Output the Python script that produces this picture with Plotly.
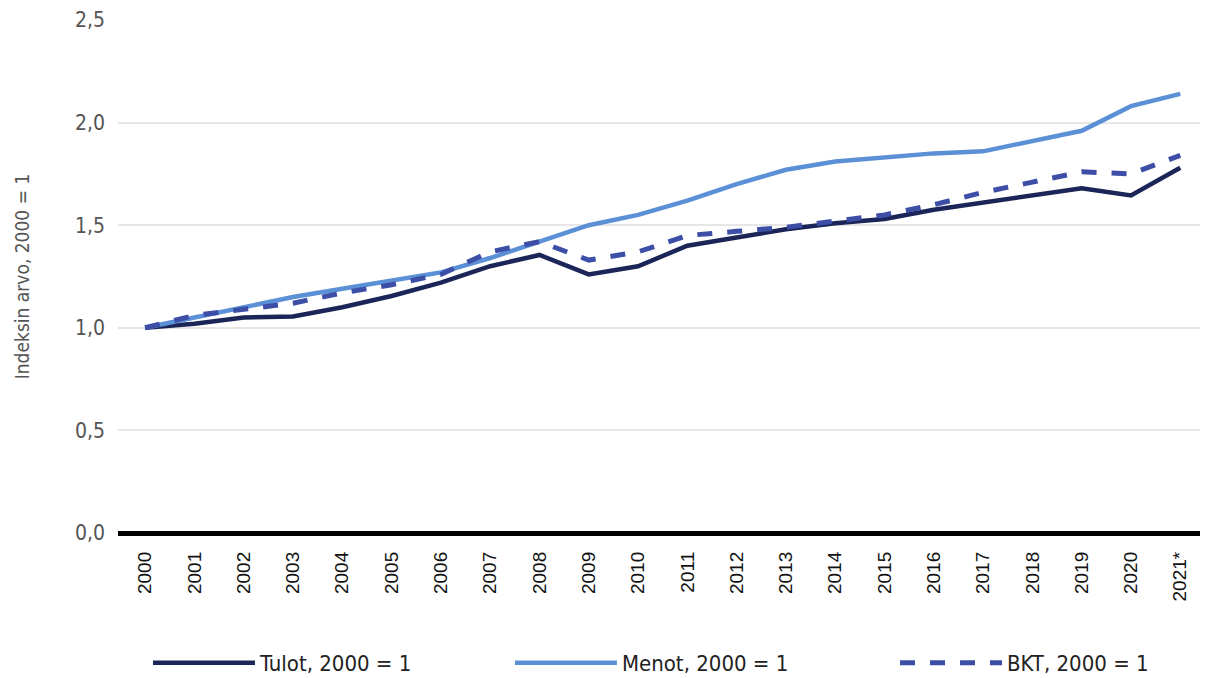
import plotly.graph_objects as go

years = ["2000", "2001", "2002", "2003", "2004", "2005", "2006", "2007", "2008", "2009", "2010",
         "2011", "2012", "2013", "2014", "2015", "2016", "2017", "2018", "2019", "2020", "2021*"]
tulot = [1.00, 1.02, 1.05, 1.055, 1.10, 1.155, 1.22, 1.30, 1.355, 1.26, 1.30,
         1.40, 1.44, 1.48, 1.51, 1.53, 1.575, 1.61, 1.645, 1.68, 1.645, 1.78]
menot = [1.00, 1.05, 1.10, 1.15, 1.19, 1.23, 1.27, 1.34, 1.42, 1.50, 1.55,
         1.62, 1.70, 1.77, 1.81, 1.83, 1.85, 1.86, 1.91, 1.96, 2.08, 2.14]
bkt = [1.00, 1.06, 1.09, 1.12, 1.17, 1.21, 1.26, 1.37, 1.42, 1.33, 1.37,
       1.45, 1.47, 1.49, 1.52, 1.55, 1.60, 1.66, 1.71, 1.76, 1.75, 1.84]

names = ["Tulot, 2000 = 1", "Menot, 2000 = 1", "BKT, 2000 = 1"]
font_c = "DejaVu Sans Condensed, Liberation Sans Narrow, sans-serif"

fig = go.Figure()
fig.add_trace(go.Scatter(x=years, y=tulot, mode="lines", name=names[0], legend="legend",
                         line=dict(color="#1c2557", width=4.5)))
fig.add_trace(go.Scatter(x=years, y=menot, mode="lines", name=names[1], legend="legend2",
                         line=dict(color="#5b8fd6", width=4.5)))
fig.add_trace(go.Scatter(x=years, y=bkt, mode="lines", name=names[2], legend="legend3",
                         line=dict(color="#3d4ea6", width=5, dash="dash")))

leg_common = dict(orientation="h", xref="container", yref="container", y=0.0221,
                  xanchor="left", yanchor="middle",
                  font=dict(size=22, family=font_c, color="#222222"),
                  itemwidth=102, bgcolor="rgba(0,0,0,0)")

fig.update_layout(
    width=1209, height=678,
    paper_bgcolor="white", plot_bgcolor="white",
    margin=dict(l=118, r=9, t=20, b=145),
    separators=", ",
    font=dict(family=font_c, color="#333333"),
    showlegend=True,
    legend=dict(x=0.1224, **leg_common),
    legend2=dict(x=0.4218, **leg_common),
    legend3=dict(x=0.7403, **leg_common),
    xaxis=dict(type="category", range=[-0.55, 21.4], tickangle=-90, automargin=False,
               tickfont=dict(family="Liberation Sans, Arial, sans-serif", size=19, color="#111111"),
               showgrid=False, showline=False, ticks="", ticklabelstandoff=14),
    yaxis=dict(range=[0, 2.5], dtick=0.5, tickformat=".1f", automargin=False,
               tickfont=dict(size=21, color="#555555", family=font_c),
               showgrid=True, gridcolor="#e6e6e6", gridwidth=1.5,
               zeroline=True, zerolinecolor="#000000", zerolinewidth=4.5,
               title=dict(text="Indeksin arvo, 2000 = 1", font=dict(size=19, color="#555555", family=font_c),
                          standoff=40),
               ticklabelstandoff=12),
)

fig.write_html("out.html", config={"displayModeBar": False},
               post_script="document.body.style.margin='0px';")
